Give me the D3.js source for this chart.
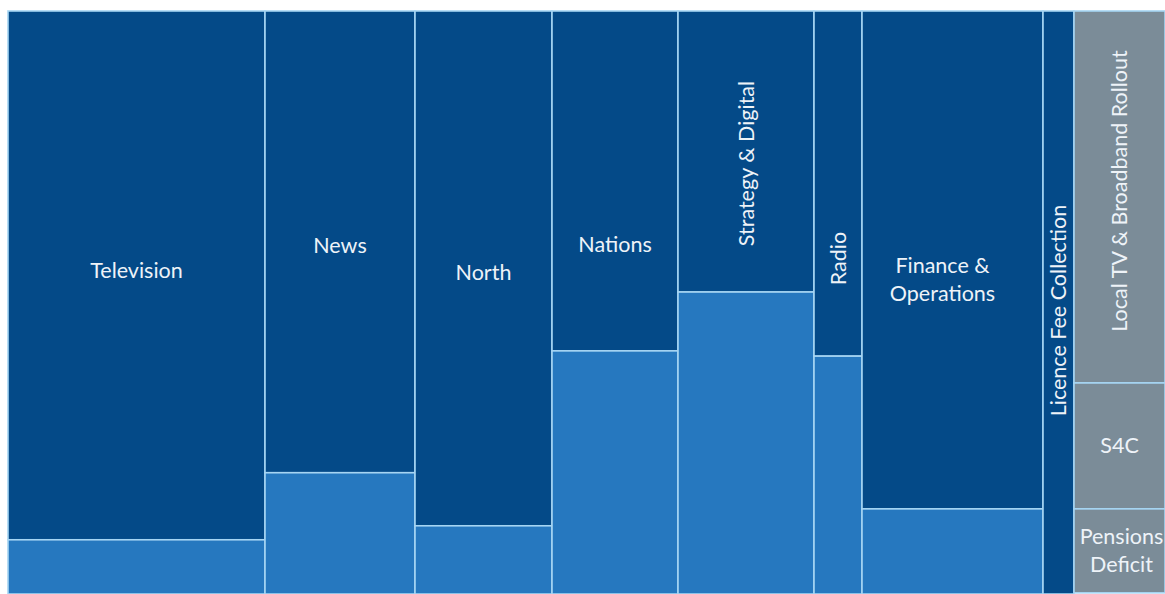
<!DOCTYPE html>
<html>
<head>
<meta charset="utf-8">
<script src="https://cdn.jsdelivr.net/npm/d3@7"></script>
<style>
  html, body { margin: 0; padding: 0; background: #ffffff; }
  svg { display: block; }
  .lbl { font-family: Lato, "Open Sans", sans-serif; font-size: 21.5px; fill: #eef3f8; }
</style>
</head>
<body>
<svg id="chart" width="1165" height="594"></svg>
<script>
// Divisions: column width = total spend, split into core (dark) and other (light) share
const categories = ["Television", "News", "North", "Nations", "Strategy & Digital", "Radio", "Finance & Operations", "Licence Fee Collection"];
const totalSpend = [257, 150, 137, 126, 136, 48, 181, 31];
const coreShare = [90.7, 79.2, 88.3, 58.3, 48.2, 59.2, 85.4, 100];

// Final column: other commitments, stacked
const otherItems = ["Local TV & Broadband Rollout", "S4C", "Pensions Deficit"];
const otherTotal = 91;
const otherShare = [63.8, 21.6, 14.4];

const W = 1165, H = 594;
const margin = { top: 11, right: 0, bottom: 0, left: 8 };

const colors = { core: "#044a88", other: "#2678bf", grey: "#7b8c98", edge: "#a6d5f3" };

// label layout: rotation and nudges (px) inside each block
const labelStyle = {
  "Television": { rotate: false, dy: -5 },
  "News": { rotate: false, dy: 4 },
  "North": { rotate: false, dy: 4 },
  "Nations": { rotate: false, dy: 64 },
  "Strategy & Digital": { rotate: true, dy: 12 },
  "Radio": { rotate: true, dy: 75 },
  "Finance & Operations": { rotate: false, dy: 20, lines: ["Finance &", "Operations"], dx: -10 },
  "Licence Fee Collection": { rotate: true, dy: 8 },
  "Local TV & Broadband Rollout": { rotate: true, dy: -6 },
  "S4C": { rotate: false, dy: 0 },
  "Pensions Deficit": { rotate: false, dy: 0, lines: ["Pensions", "Deficit"], dx: 2 }
};

const svg = d3.select("#chart");

// cumulative x positions for the columns
const allWidths = totalSpend.concat([otherTotal]);
const starts = [];
allWidths.reduce((acc, v) => { starts.push(acc); return acc + v; }, 0);
const grand = d3.sum(allWidths);

const x = d3.scaleLinear().domain([0, grand]).range([margin.left, W - margin.right]);
const y = d3.scaleLinear().domain([0, 100]).range([H - margin.bottom, margin.top]);

// segments built from the arrays: top-down stacking
const segments = [];
categories.forEach((name, i) => {
  const x0 = starts[i], x1 = starts[i] + totalSpend[i];
  segments.push({ name, label: name, x0, x1, top: 100, bottom: 100 - coreShare[i], fill: colors.core });
  if (coreShare[i] < 100) {
    segments.push({ name: name + " other", label: null, x0, x1, top: 100 - coreShare[i], bottom: 0, fill: colors.other });
  }
});
{
  const i = categories.length;
  const x0 = starts[i], x1 = starts[i] + otherTotal;
  let top = 100;
  otherItems.forEach((name, j) => {
    segments.push({ name, label: name, x0, x1, top, bottom: top - otherShare[j], fill: colors.grey });
    top -= otherShare[j];
  });
}

svg.append("g")
  .selectAll("rect")
  .data(segments)
  .join("rect")
  .attr("x", d => x(d.x0))
  .attr("y", d => y(d.top))
  .attr("width", d => x(d.x1) - x(d.x0))
  .attr("height", d => y(d.bottom) - y(d.top))
  .attr("fill", d => d.fill)
  .attr("stroke", colors.edge)
  .attr("stroke-width", 1.6);

const labels = svg.append("g");
segments.filter(d => d.label).forEach(d => {
  const st = labelStyle[d.label] || { rotate: false, dy: 0 };
  const cx = (x(d.x0) + x(d.x1)) / 2 + (st.dx || 0);
  const cy = (y(d.top) + y(d.bottom)) / 2 + st.dy;
  const lines = st.lines || [d.label];
  const lh = 28;
  const t = labels.append("text")
    .attr("class", "lbl")
    .attr("text-anchor", "middle")
    .attr("transform", `translate(${cx},${cy})` + (st.rotate ? " rotate(-90)" : ""));
  lines.forEach((ln, k) => {
    t.append("tspan")
      .attr("x", 0)
      .attr("y", (k - (lines.length - 1) / 2) * lh)
      .attr("dy", "0.35em")
      .text(ln);
  });
});
</script>
</body>
</html>
